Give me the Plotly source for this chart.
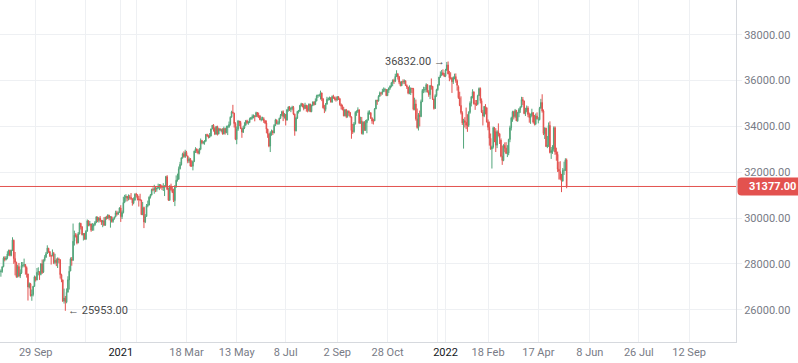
import plotly.graph_objects as go

# Daily OHLC bars, 20 Aug 2020 .. 18 May 2022 (one bar per trading day)
open_ = [
    # Aug 2020
    27650, 27670, 27880, 28250, 28190, 28270, 28430, 28590,
    # Sep 2020
    28370, 28590, 29030, 28230, 28060, 27440, 27880, 27470, 27610, 27930, 27930, 27970, 27840, 27560, 26990, 27130, 26610, 26660, 27020, 27420, 27300,
    # Oct 2020
    27640, 27650, 27540, 28000, 27640, 28150, 28290, 28450, 28680, 28530, 28360, 28350, 28460, 28060, 28160, 28060, 28210, 28180, 27530, 27300, 26380, 26500,
    # Nov 2020
    26340, 26770, 27300, 27690, 28210, 28160, 28990, 29250, 29230, 28920, 29300, 29770, 29620, 29260, 29320, 29080, 29430, 29880, 29700, 29740,
    # Dec 2020
    29470, 29640, 29710, 29800, 30040, 29890, 30000, 29900, 29820, 29880, 29690, 30030, 29980, 30120, 30000, 30050, 29850, 29960, 30050, 30230, 30170, 30240,
    # Jan 2021
    30440, 30060, 30240, 30690, 30890, 30950, 30850, 30920, 30900, 30840, 30660, 30790, 31040, 31020, 30840, 30810, 30780, 30140, 30460,
    # Feb 2021
    29830, 30070, 30540, 30570, 30910, 31000, 31250, 31230, 31290, 31260, 31310, 31360, 31450, 31340, 31330, 31370, 31390, 31800, 31240,
    # Mar 2021
    30780, 31390, 31240, 31120, 30760, 31350, 31660, 31690, 32150, 32330, 32630, 32800, 32680, 32860, 32700, 32480, 32590, 32270, 32260, 32470, 32920, 33010, 32920,
    # Apr 2021
    32830, 33000, 33380, 33280, 33290, 33350, 33640, 33590, 33530, 33580, 33890, 34050, 33920, 33660, 33990, 33670, 33890, 33830, 33840, 33670, 33910,
    # May 2021
    33730, 33960, 33980, 34080, 34400, 34630, 34580, 34120, 33430, 33870, 34230, 34170, 33910, 33740, 33930, 34060, 34240, 34150, 34170, 34310,
    # Jun 2021
    34380, 34420, 34460, 34420, 34600, 34480, 34450, 34290, 34320, 34330, 34240, 34150, 33880, 33660, 33140, 33720, 33790, 33710, 34040, 34280, 34130, 34140,
    # Jul 2021
    34350, 34480, 34640, 34430, 34520, 34270, 34720, 34850, 34740, 34780, 34830, 34530, 33800, 34360, 34650, 34660, 34900, 34990, 34910, 34780, 34920,
    # Aug 2021
    34780, 34690, 34970, 34640, 34910, 35060, 34950, 35110, 35330, 35350, 35360, 35460, 35190, 34810, 34740, 34970, 35180, 35210, 35250, 35060, 35300, 35250,
    # Sep 2021
    35210, 35160, 35290, 35210, 34950, 34880, 34730, 34460, 34720, 34430, 34660, 34600, 34410, 33820, 33770, 34110, 34600, 34650, 34720, 34150, 34240,
    # Oct 2021
    33680, 34180, 33850, 34160, 34270, 34600, 34590, 34350, 34230, 34240, 34760, 35140, 35110, 35310, 35460, 35450, 35530, 35590, 35610, 35340, 35580,
    # Nov 2021
    35670, 35760, 35900, 36010, 35970, 36180, 36280, 36170, 35930, 35770, 35950, 35940, 35990, 35780, 35710, 35450, 35470, 35660, 35650, 34750, 34980,
    # Dec 2021
    34330, 33950, 34490, 34430, 35080, 35570, 35600, 35600, 35820, 35500, 35380, 35780, 35750, 35200, 34780, 35340, 35600, 35800, 36140, 36250, 36340, 36250,
    # Jan 2022
    36190, 36460, 36680, 36290, 36120, 36110, 35950, 36120, 36170, 35990, 35730, 35250, 34910, 34590, 34150, 34250, 34180, 34050, 34040, 34610,
    # Feb 2022
    35010, 35290, 35510, 34990, 34970, 34970, 35340, 35650, 35120, 34610, 34450, 34870, 34810, 34190, 33960, 33480, 33010, 33100, 33800,
    # Mar 2022
    33770, 33180, 33770, 33680, 33400, 32700, 32510, 33170, 33050, 32820, 32830, 33430, 33940, 34360, 34640, 34430, 34690, 34240, 34590, 34740, 34840, 35170, 35110,
    # Apr 2022
    34560, 34700, 34800, 34520, 34380, 34460, 34600, 34190, 34100, 34450, 34280, 34290, 34790, 35040, 34670, 33680, 33920, 33120, 33170, 34040,
    # May 2022
    32860, 32940, 33010, 33940, 32870, 32780, 32130, 32030, 31700, 31610, 32080, 32100, 32540,
]

high = [
    27760, 27900, 28320, 28330, 28340, 28550, 28620, 28620,
    28620, 29160, 29060, 28520, 28100, 27960, 28040, 27760, 28080, 28080, 28230, 27990, 27890, 27570, 27190, 27170, 26880, 27040, 27490, 27450, 27820,
    27850, 27680, 28030, 28190, 28200, 28380, 28520, 28810, 28700, 28560, 28380, 28630, 28520, 28440, 28240, 28280, 28270, 28200, 27570, 27320, 26920, 26600,
    26930, 27460, 27900, 28280, 28300, 29760, 29450, 29340, 29320, 29390, 29800, 29790, 29640, 29340, 29350, 29470, 29940, 29900, 29870, 29760,
    29780, 29760, 29870, 30080, 30060, 30040, 30090, 29920, 29920, 30040, 30060, 30100, 30170, 30140, 30090, 30080, 30020, 30070, 30320, 30320, 30290, 30470,
    30560, 30330, 30930, 31010, 31040, 30960, 31030, 31010, 31090, 30860, 30900, 31080, 31100, 31030, 30960, 31060, 30800, 30700, 30500,
    30170, 30610, 30760, 30950, 31050, 31280, 31340, 31450, 31370, 31330, 31500, 31480, 31470, 31440, 31520, 31430, 31840, 31870, 31330,
    31440, 31500, 31360, 31280, 31440, 31860, 31940, 32250, 32450, 32640, 32850, 32910, 32980, 32930, 32730, 32650, 32620, 32520, 32510, 32940, 33090, 33040, 33000,
    33060, 33470, 33410, 33360, 33400, 33660, 33680, 33640, 33710, 33900, 34060, 34100, 33960, 34020, 34030, 33940, 33930, 33900, 33920, 33990, 33920,
    34030, 34040, 34210, 34440, 34680, 34940, 34590, 34180, 34000, 34280, 34240, 34240, 33950, 34020, 34180, 34280, 34290, 34230, 34380, 34410,
    34520, 34520, 34490, 34640, 34620, 34600, 34500, 34420, 34420, 34400, 34280, 34260, 33900, 33700, 33780, 33860, 33830, 34100, 34330, 34300, 34230, 34380,
    34540, 34680, 34700, 34580, 34540, 34760, 34870, 34890, 34830, 34900, 34890, 34560, 34420, 34680, 34720, 34940, 35030, 35010, 34990, 35030, 34940,
    34920, 35000, 34990, 34950, 35090, 35100, 35220, 35380, 35390, 35410, 35560, 35470, 35240, 34930, 35020, 35290, 35260, 35300, 35280, 35350, 35380, 35300,
    35300, 35320, 35320, 35230, 35000, 34950, 34850, 34760, 34760, 34690, 34700, 34630, 34440, 34110, 34190, 34660, 34700, 34830, 34740, 34420, 34410,
    34220, 34230, 34280, 34310, 34690, 34700, 34620, 34400, 34330, 34800, 35160, 35160, 35360, 35520, 35500, 35640, 35700, 35680, 35620, 35620, 35700,
    35790, 35930, 36050, 36080, 36300, 36450, 36330, 36200, 35960, 35980, 36050, 36050, 36000, 35830, 35730, 35790, 35700, 35680, 35680, 35250, 35170,
    34780, 34580, 34690, 35170, 35630, 35730, 35720, 35880, 35830, 35580, 35800, 36090, 35750, 35200, 35400, 35640, 35840, 36160, 36400, 36460, 36490, 36330,
    36510, 36810, 36832, 36420, 36360, 36150, 36180, 36300, 36310, 36050, 35790, 35510, 35310, 34660, 34330, 34400, 34820, 34530, 34660, 35090,
    35320, 35620, 35510, 35150, 35150, 35380, 35700, 35700, 35220, 34720, 34890, 34970, 34830, 34300, 34210, 33690, 33160, 33990, 33970,
    33920, 33830, 34130, 33690, 33480, 33160, 33220, 33300, 33310, 33180, 33460, 34030, 34420, 34680, 34680, 34760, 34720, 34630, 34800, 34880, 35290, 35280, 35120,
    34810, 34910, 34880, 34600, 34560, 34770, 34610, 34500, 34560, 34610, 34400, 34850, 35200, 35400, 34740, 33960, 33940, 33580, 34170, 34220,
    33100, 33180, 34000, 34000, 33070, 32900, 32450, 32480, 31930, 32180, 32460, 32610, 32600,
]

low = [
    27440, 27610, 27850, 28110, 28150, 28200, 28350, 28330,
    28330, 28560, 28000, 27500, 27390, 27400, 27420, 27380, 27560, 27840, 27860, 27530, 27400, 26400, 26930, 26580, 26390, 26580, 27000, 27230, 27280,
    27500, 27300, 27500, 27560, 27600, 28100, 28260, 28430, 28480, 28300, 27970, 28330, 27990, 27980, 27900, 27820, 28020, 27360, 27200, 26350, 26270, 25953,
    26280, 26740, 26880, 27680, 27920, 28130, 28800, 29150, 28850, 28900, 29290, 29500, 29240, 29020, 29050, 29040, 29400, 29640, 29640, 29400,
    29450, 29450, 29660, 29780, 29820, 29800, 29820, 29700, 29600, 29650, 29660, 29930, 29960, 29900, 29580, 29800, 29790, 29930, 30030, 30100, 30140, 30230,
    29830, 29960, 30200, 30650, 30720, 30730, 30770, 30800, 30790, 30540, 30600, 30750, 30900, 30770, 30500, 30740, 30130, 30140, 29560,
    29780, 30050, 30470, 30550, 30850, 30990, 31170, 31060, 31130, 31150, 31280, 31220, 31280, 31220, 31180, 30960, 31330, 31220, 30750,
    30750, 31190, 31090, 30700, 30520, 31330, 31590, 31680, 32120, 32290, 32590, 32640, 32620, 32700, 32390, 32400, 32240, 32250, 32080, 32440, 32840, 32830, 32780,
    32780, 32960, 33220, 33220, 33200, 33330, 33540, 33470, 33490, 33560, 33870, 33770, 33620, 33640, 33600, 33650, 33790, 33740, 33640, 33650, 33640,
    33700, 33620, 33930, 34030, 34380, 34560, 33950, 33400, 33220, 33800, 34010, 33880, 33500, 33710, 33880, 34020, 34100, 34070, 34140, 34290,
    34300, 34350, 34220, 34410, 34400, 34360, 34270, 34220, 34260, 34150, 34100, 33700, 33500, 33090, 32880, 33590, 33620, 33700, 34010, 34090, 34060, 34080,
    34320, 34440, 34230, 34340, 34040, 34260, 34640, 34670, 34620, 34700, 34490, 33590, 33780, 34320, 34560, 34640, 34860, 34830, 34700, 34760, 34640,
    34610, 34640, 34620, 34620, 34880, 34910, 34940, 35090, 35240, 35290, 35170, 35100, 34780, 34580, 34650, 34950, 35120, 35140, 35040, 35030, 35200, 35130,
    35080, 35120, 35150, 34900, 34740, 34700, 34440, 34430, 34360, 34380, 34460, 34380, 33460, 33670, 33720, 34080, 34460, 34580, 34100, 34110, 33650,
    33630, 33800, 33800, 33700, 34270, 34510, 34330, 34110, 34080, 34230, 34750, 34940, 35080, 35290, 35340, 35380, 35500, 35490, 35320, 35330, 35460,
    35600, 35700, 35750, 35850, 35930, 36150, 36040, 35840, 35750, 35760, 35840, 35850, 35770, 35630, 35400, 35400, 35370, 35450, 34700, 34700, 34250,
    33900, 33820, 34000, 34400, 35060, 35450, 35480, 35480, 35480, 35290, 35190, 35600, 35150, 34730, 34770, 35290, 35550, 35780, 36130, 36200, 36220, 36150,
    36150, 36420, 36270, 35970, 36040, 35460, 35850, 36050, 35900, 35560, 35200, 34880, 34520, 34060, 33030, 33950, 33880, 33760, 33970, 34550,
    34870, 35220, 34950, 34720, 34890, 34920, 35330, 35000, 34580, 34040, 34400, 34520, 34170, 33830, 33160, 32980, 32160, 33030, 33310,
    32880, 33050, 33560, 33230, 32650, 32320, 32480, 32870, 32790, 32660, 32740, 33310, 33820, 34200, 34300, 34360, 34230, 34200, 34400, 34590, 34830, 34930, 34530,
    34450, 34620, 34400, 34160, 34110, 34420, 34130, 34040, 34050, 34300, 34130, 34260, 34770, 34600, 33620, 33450, 33100, 33050, 33100, 32820,
    32580, 32800, 32900, 32760, 32500, 32010, 31680, 31660, 31130, 31600, 31880, 32050, 31300,
]

close = [
    27680, 27870, 28250, 28190, 28270, 28430, 28590, 28370,
    28590, 29040, 28230, 28070, 27440, 27880, 27470, 27610, 27930, 27930, 27970, 27840, 27560, 26990, 27130, 26610, 26660, 27020, 27430, 27300, 27630,
    27670, 27530, 28000, 27620, 28150, 28280, 28440, 28690, 28530, 28360, 28340, 28460, 28050, 28160, 28060, 28210, 28190, 27530, 27310, 26370, 26510, 26350,
    26760, 27310, 27680, 28220, 28150, 28990, 29250, 29230, 28910, 29310, 29780, 29610, 29270, 29310, 29090, 29420, 29880, 29700, 29740, 29470,
    29650, 29710, 29800, 30050, 29900, 30000, 29900, 29830, 29880, 29690, 30030, 29980, 30130, 30010, 30050, 29850, 29960, 30030, 30230, 30170, 30240, 30440,
    30070, 30240, 30680, 30890, 30950, 30860, 30920, 30910, 30850, 30660, 30780, 31040, 31030, 30850, 30810, 30790, 30150, 30450, 29830,
    30060, 30540, 30570, 30910, 31000, 31240, 31230, 31290, 31280, 31310, 31370, 31460, 31340, 31340, 31370, 31390, 31810, 31250, 30780,
    31390, 31240, 31120, 30770, 31350, 31650, 31680, 32150, 32340, 32630, 32800, 32680, 32870, 32710, 32480, 32580, 32270, 32270, 32470, 32920, 33020, 32920, 32830,
    33000, 33380, 33280, 33300, 33350, 33650, 33600, 33530, 33580, 33890, 34050, 33930, 33670, 33990, 33670, 33890, 33830, 33840, 33670, 33910, 33730,
    33960, 33980, 34080, 34400, 34630, 34590, 34120, 33440, 33870, 34230, 34180, 33910, 33750, 33930, 34060, 34240, 34160, 34170, 34310, 34380,
    34420, 34450, 34420, 34600, 34480, 34450, 34290, 34310, 34330, 34240, 34150, 33880, 33670, 33140, 33720, 33790, 33720, 34040, 34280, 34130, 34140, 34350,
    34480, 34640, 34430, 34530, 34270, 34720, 34850, 34740, 34780, 34840, 34540, 33810, 34360, 34650, 34670, 34910, 34990, 34910, 34780, 34930, 34780,
    34690, 34970, 34640, 34910, 35060, 34950, 35110, 35330, 35350, 35360, 35470, 35190, 34810, 34740, 34970, 35180, 35210, 35250, 35060, 35300, 35250, 35210,
    35160, 35290, 35220, 34950, 34880, 34730, 34460, 34720, 34430, 34660, 34600, 34430, 33820, 33770, 34110, 34610, 34650, 34720, 34150, 34240, 33690,
    34180, 33850, 34160, 34270, 34600, 34600, 34350, 34230, 34230, 34760, 35140, 35110, 35310, 35460, 35450, 35530, 35590, 35610, 35340, 35580, 35670,
    35760, 35900, 36010, 35970, 36180, 36280, 36170, 35930, 35770, 35950, 35940, 35990, 35780, 35720, 35450, 35470, 35660, 35650, 34750, 34980, 34330,
    33950, 34490, 34430, 35080, 35570, 35600, 35600, 35820, 35500, 35390, 35780, 35750, 35210, 34780, 35340, 35600, 35800, 36150, 36250, 36340, 36250, 36190,
    36460, 36680, 36290, 36120, 36110, 35950, 36130, 36170, 35990, 35790, 35250, 34910, 34600, 34150, 34250, 34180, 34050, 34040, 34610, 35010,
    35290, 35510, 34990, 34970, 34970, 35340, 35650, 35120, 34620, 34450, 34870, 34820, 34190, 33960, 33480, 33010, 33100, 33940, 33770,
    33180, 33770, 33680, 33500, 32700, 32510, 33170, 33050, 32820, 32830, 33430, 33940, 34360, 34640, 34430, 34690, 34240, 34590, 34740, 34840, 35170, 35110, 34560,
    34700, 34800, 34520, 34380, 34460, 34600, 34190, 34100, 34450, 34330, 34290, 34790, 35040, 34670, 33690, 33930, 33120, 33180, 34040, 32860,
    32940, 33010, 33940, 32880, 32780, 32130, 32040, 31710, 31610, 32080, 32100, 32540, 31377,
]

# x-axis labels (bar index of the labelled session) and y ticks
tick_idx = [27, 66, 93, 105, 144, 183, 221, 261, 300, 339, 345, 378, 417, 457, 495, 534]
tick_text = ["29 Sep", "", "2021", "", "18 Mar", "13 May", "8 Jul", "2 Sep", "28 Oct", "",
             "2022", "18 Feb", "17 Apr", "8 Jun", "26 Jul", "12 Sep"]
year_labels = {"2021", "2022"}
y_ticks = [26000, 28000, 30000, 32000, 34000, 36000, 38000]

n = len(close)
assert len(open_) == n and len(high) == n and len(low) == n, (len(open_), len(high), len(low), n)
bad = [i for i in range(n) if high[i] < max(open_[i], close[i]) or low[i] > min(open_[i], close[i])]
assert not bad, bad

x = list(range(n))
GREEN = "#52a57a"
RED = "#e3524f"
TXT = "#787b86"
GRID = "#eef0f3"
AXIS = "#d6d9de"
FONT = "Roboto, Arial, sans-serif"

W, H = 798, 363
ML, MR, MT, MB = 0, 62, 0, 21
PW, PH = W - ML - MR, H - MT - MB
x_range = [-0.7, 570.4]
y_range = [24591, 39514]
y_per_px = (y_range[1] - y_range[0]) / PH

fig = go.Figure(go.Candlestick(
    x=x, open=open_, high=high, low=low, close=close,
    increasing=dict(line=dict(color=GREEN, width=1), fillcolor=GREEN),
    decreasing=dict(line=dict(color=RED, width=1), fillcolor=RED),
    whiskerwidth=0, hoverinfo="skip", showlegend=False,
))

ticktext = [f"<span style='color:#131722'>{t}</span>" if t in year_labels else t for t in tick_text]

fig.update_layout(
    width=W, height=H, margin=dict(l=ML, r=MR, t=MT, b=MB, pad=0, autoexpand=False),
    paper_bgcolor="white", plot_bgcolor="white", showlegend=False,
    font=dict(family=FONT, size=11, color=TXT),
)
fig.update_xaxes(
    range=x_range, tickmode="array", tickvals=tick_idx, ticktext=ticktext,
    showgrid=True, gridcolor=GRID, gridwidth=1, zeroline=False,
    showline=True, linecolor=AXIS, linewidth=1, ticks="",
    rangeslider=dict(visible=False), tickfont=dict(size=11, color=TXT),
    automargin=False,
)
fig.update_yaxes(
    side="right", range=y_range, tickmode="array", tickvals=y_ticks, tickformat=".2f",
    showgrid=True, gridcolor=GRID, gridwidth=1, zeroline=False,
    showline=True, linecolor=AXIS, linewidth=1,
    ticks="outside", ticklen=5, tickcolor=GRID, tickfont=dict(size=11, color=TXT),
    automargin=False,
)

last = close[-1]
fig.add_shape(type="line", xref="paper", yref="y", x0=0, x1=1, y0=last, y1=last,
              line=dict(color=RED, width=1), layer="above")

# rounded price label on the right axis
x0 = 1 + 1.5 / PW
x1 = W / PW
rx = 4 / PW
yt = last + 9 * y_per_px
yb = last - 9 * y_per_px
ry = 4 * y_per_px
path = (f"M {x0 + rx},{yt} L {x1},{yt} L {x1},{yb} L {x0 + rx},{yb} "
        f"Q {x0},{yb} {x0},{yb + ry} L {x0},{yt - ry} Q {x0},{yt} {x0 + rx},{yt} Z")
fig.add_shape(type="path", xref="paper", yref="y", path=path,
              fillcolor=RED, line=dict(color=RED, width=0), layer="above")
fig.add_annotation(xref="paper", yref="y", x=1 + 11 / PW, y=last, xanchor="left", yanchor="middle",
                   text=f"<b>{last:.2f}</b>", showarrow=False,
                   font=dict(family=FONT, size=11, color="white"))

# min / max markers
imin = low.index(min(low))
imax = high.index(max(high))
fig.add_annotation(x=imin, y=low[imin], xanchor="left", yanchor="middle", xshift=1,
                   text=f"← {low[imin]:.2f}", showarrow=False,
                   font=dict(family=FONT, size=11, color="#4a4a4a"))
fig.add_annotation(x=imax, y=high[imax], xanchor="right", yanchor="middle", xshift=-1,
                   text=f"{high[imax]:.2f} →", showarrow=False,
                   font=dict(family=FONT, size=11, color="#4a4a4a"))

fig.write_html("out.html", config={"displayModeBar": False, "staticPlot": True},
               post_script="document.body.style.margin='0';document.body.style.overflow='hidden';")
